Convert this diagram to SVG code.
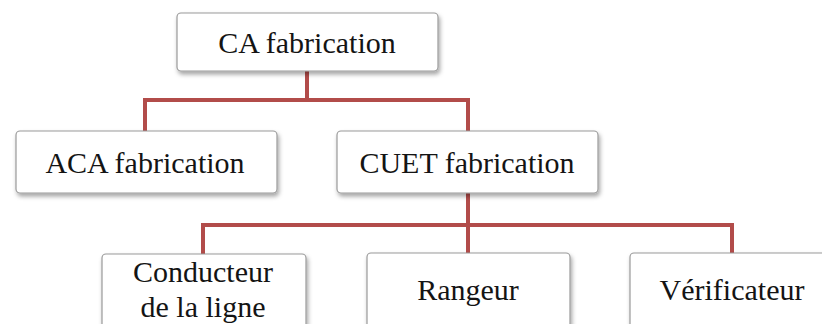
<svg xmlns="http://www.w3.org/2000/svg" width="822" height="324" viewBox="0 0 822 324">
<style>
.box{fill:#fff;stroke:#9a9a9a;stroke-width:1.2;filter:url(#sh)}
.lbl{font-family:"Liberation Serif","DejaVu Serif",serif;font-size:30px;fill:#141414;text-anchor:middle}
.con{fill:none;stroke:#b24c4a;stroke-width:4;stroke-linejoin:miter}
</style>
<defs>
<filter id="sh" x="-10%" y="-20%" width="130%" height="160%">
<feDropShadow dx="1.5" dy="3" stdDeviation="2" flood-color="#000" flood-opacity="0.35"/>
</filter>
</defs>
<g id="connectors">
<path class="con" d="M307 71 V100 M145 131 V100 H468 V131"/>
<path class="con" d="M468 193 V253 M203 254 V225 H732 V253"/>
</g>
<g id="ca"><rect class="box" x="177" y="13" width="261" height="58" rx="4"/><text class="lbl" x="307" y="53">CA fabrication</text></g>
<g id="aca"><rect class="box" x="16" y="131" width="261" height="62" rx="4"/><text class="lbl" x="145" y="173">ACA fabrication</text></g>
<g id="cuet"><rect class="box" x="337" y="131" width="261" height="62" rx="4"/><text class="lbl" x="467" y="173">CUET fabrication</text></g>
<g id="conducteur"><rect class="box" x="102" y="254" width="204" height="90" rx="4"/><text class="lbl" x="203" y="282">Conducteur</text><text class="lbl" x="203" y="317">de la ligne</text></g>
<g id="rangeur"><rect class="box" x="367" y="253" width="203" height="90" rx="4"/><text class="lbl" x="468" y="300">Rangeur</text></g>
<g id="verificateur"><rect class="box" x="630" y="253" width="204" height="90" rx="4"/><text class="lbl" x="732" y="300">Vérificateur</text></g>
</svg>
